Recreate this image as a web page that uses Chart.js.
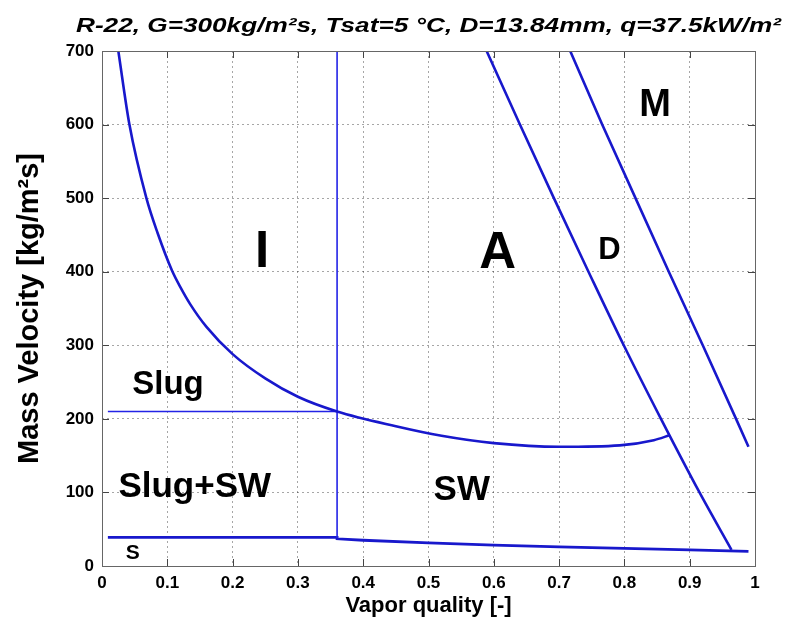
<!DOCTYPE html>
<html>
<head>
<meta charset="utf-8">
<script src="https://cdn.jsdelivr.net/npm/chart.js@4.4.0/dist/chart.umd.min.js"></script>
<style>
  html, body { margin: 0; padding: 0; background: #fff; }
</style>
</head>
<body>
<canvas id="chart" width="785" height="632"></canvas>
<script>
'use strict';

// tick labels
const xTickLabels = ['0', '0.1', '0.2', '0.3', '0.4', '0.5', '0.6', '0.7', '0.8', '0.9', '1'];
const yTickLabels = ['0', '100', '200', '300', '400', '500', '600', '700'];

// I / Slug / SW boundary (curve)
const curveX = [0.025, 0.042, 0.068, 0.085, 0.107, 0.12, 0.135, 0.16, 0.2, 0.25, 0.3, 0.36, 0.45, 0.52, 0.6, 0.7, 0.793, 0.845, 0.870];
const curveY = [700, 600, 500, 453, 402, 379, 356, 325, 288, 255, 230, 210, 190, 177, 167, 162, 164, 171, 178];

// A / D boundary
const dryoutX = [0.589, 0.640, 0.692, 0.745, 0.799, 0.856, 0.915, 0.964];
const dryoutY = [700, 600, 500, 400, 300, 200, 100, 22];

// D / M boundary
const mistX = [0.717, 0.766, 0.817, 0.868, 0.920, 0.971, 0.990];
const mistY = [700, 600, 500, 400, 300, 200, 162];

// I / A vertical line
const iaX = [0.36, 0.36];
const iaY = [38, 700];

// Slug / Slug+SW line
const slugX = [0.009, 0.36];
const slugY = [210, 210];

// stratified boundary
const stratX = [0.009, 0.36, 0.36, 0.4, 0.5, 0.6, 0.7, 0.8, 0.9, 0.99];
const stratY = [39, 39, 37, 35, 31.5, 28.5, 26, 24, 22, 20];

// region names
const regionText = ['I', 'A', 'D', 'M', 'Slug', 'Slug+SW', 'SW', 'S'];
const regionX = [0.245, 0.606, 0.777, 0.847, 0.101, 0.142, 0.551, 0.047];
const regionY = [406, 405, 417, 611, 234, 94, 90, 9.5];

const titleText = 'R-22, G=300kg/m\u00B2s, Tsat=5 \u00B0C, D=13.84mm, q=37.5kW/m\u00B2';

const toPoints = (xs, ys) => xs.map((x, i) => ({x: x, y: ys[i]}));

const FONT = '"Liberation Sans", Arial, sans-serif';
const BLUE = '#1818cc';
const BLUE_THIN = '#2323e6';

const line = function(xs, ys, color, width, smooth) {
    return {
        data: toPoints(xs, ys),
        showLine: true,
        borderColor: color,
        borderWidth: width,
        pointRadius: 0,
        fill: false,
        cubicInterpolationMode: smooth ? 'monotone' : 'default',
        tension: 0
    };
};

// box round the plot with inward ticks on all four sides
const framePlugin = {
    id: 'frame',
    afterDatasetsDraw(chart) {
        const {ctx, chartArea: a, scales} = chart;
        ctx.save();
        ctx.strokeStyle = '#444';
        ctx.lineWidth = 1;
        ctx.beginPath();
        for (const t of scales.x.ticks) {
            const px = Math.round(scales.x.getPixelForValue(t.value)) + 0.5;
            ctx.moveTo(px, a.bottom); ctx.lineTo(px, a.bottom - 7);
            ctx.moveTo(px, a.top); ctx.lineTo(px, a.top + 7);
        }
        for (const t of scales.y.ticks) {
            const py = Math.round(scales.y.getPixelForValue(t.value)) + 0.5;
            ctx.moveTo(a.left, py); ctx.lineTo(a.left + 7, py);
            ctx.moveTo(a.right, py); ctx.lineTo(a.right - 7, py);
        }
        ctx.stroke();
        ctx.strokeStyle = '#666';
        ctx.strokeRect(Math.round(a.left) + 0.5, Math.round(a.top) + 0.5, Math.round(a.width), Math.round(a.height));
        ctx.restore();
    }
};

// flow pattern names placed with the scales
const regionPlugin = {
    id: 'regions',
    afterDatasetsDraw(chart) {
        const {ctx, scales} = chart;
        const sizes = [51, 51, 31, 38, 33, 35, 35, 21];
        ctx.save();
        ctx.fillStyle = '#000';
        ctx.textAlign = 'center';
        ctx.textBaseline = 'alphabetic';
        regionText.forEach((txt, i) => {
            ctx.font = `bold ${sizes[i]}px ${FONT}`;
            ctx.fillText(txt, scales.x.getPixelForValue(regionX[i]), scales.y.getPixelForValue(regionY[i]));
        });
        ctx.restore();
    }
};

// title centred over the axes, stretched to the width of the original
const titlePlugin = {
    id: 'topTitle',
    afterDraw(chart) {
        const {ctx, chartArea: a} = chart;
        ctx.save();
        ctx.font = `italic bold 20px ${FONT}`;
        ctx.fillStyle = '#000';
        ctx.textAlign = 'center';
        ctx.textBaseline = 'alphabetic';
        const w = ctx.measureText(titleText).width;
        const sx = 705 / w;
        ctx.translate((a.left + a.right) / 2, 32);
        ctx.scale(sx, 1);
        ctx.fillText(titleText, 0, 0);
        ctx.restore();
    }
};

const canvas = document.querySelector('#chart').getContext('2d');

const chart = new Chart(canvas, {
    type: 'scatter',
    data: {
        datasets: [
            line(curveX, curveY, BLUE, 2.6, true),
            line(dryoutX, dryoutY, BLUE, 2.6, true),
            line(mistX, mistY, BLUE, 2.6, false),
            line(iaX, iaY, BLUE_THIN, 1.6, false),
            line(slugX, slugY, BLUE_THIN, 1.6, false),
            line(stratX, stratY, BLUE, 2.8, false)
        ]
    },
    options: {
        responsive: false,
        devicePixelRatio: 1,
        animation: false,
        layout: { padding: { top: 51, right: 30, left: 0, bottom: 0 } },
        plugins: {
            legend: { display: false },
            tooltip: { enabled: false },
            title: { display: false }
        },
        scales: {
            x: {
                type: 'linear',
                min: 0,
                max: 1,
                afterFit: (s) => { s.height = 66; },
                ticks: {
                    stepSize: 0.1,
                    padding: 7,
                    color: '#000',
                    maxRotation: 0,
                    autoSkip: false,
                    font: { family: FONT, size: 17, weight: 'bold' },
                    callback: (v, i) => xTickLabels[i]
                },
                grid: { color: 'rgba(0,0,0,0.35)', lineWidth: 1, drawTicks: false },
                border: { display: false, dash: [2, 3] },
                title: {
                    display: true,
                    text: 'Vapor quality [-]',
                    color: '#000',
                    font: { family: FONT, size: 22, weight: 'bold' },
                    padding: { top: 0, bottom: 13 }
                }
            },
            y: {
                type: 'linear',
                min: 0,
                max: 700,
                afterFit: (s) => { s.width = 102; },
                ticks: {
                    stepSize: 100,
                    padding: 8,
                    color: '#000',
                    font: { family: FONT, size: 17, weight: 'bold' },
                    callback: (v, i) => yTickLabels[i]
                },
                grid: { color: 'rgba(0,0,0,0.35)', lineWidth: 1, drawTicks: false },
                border: { display: false, dash: [2, 3] },
                title: {
                    display: true,
                    text: 'Mass Velocity [kg/m\u00B2s]',
                    color: '#000',
                    font: { family: FONT, size: 29, weight: 'bold' },
                    padding: { top: 13, bottom: 0 }
                }
            }
        }
    },
    plugins: [framePlugin, regionPlugin, titlePlugin]
});
</script>
</body>
</html>
